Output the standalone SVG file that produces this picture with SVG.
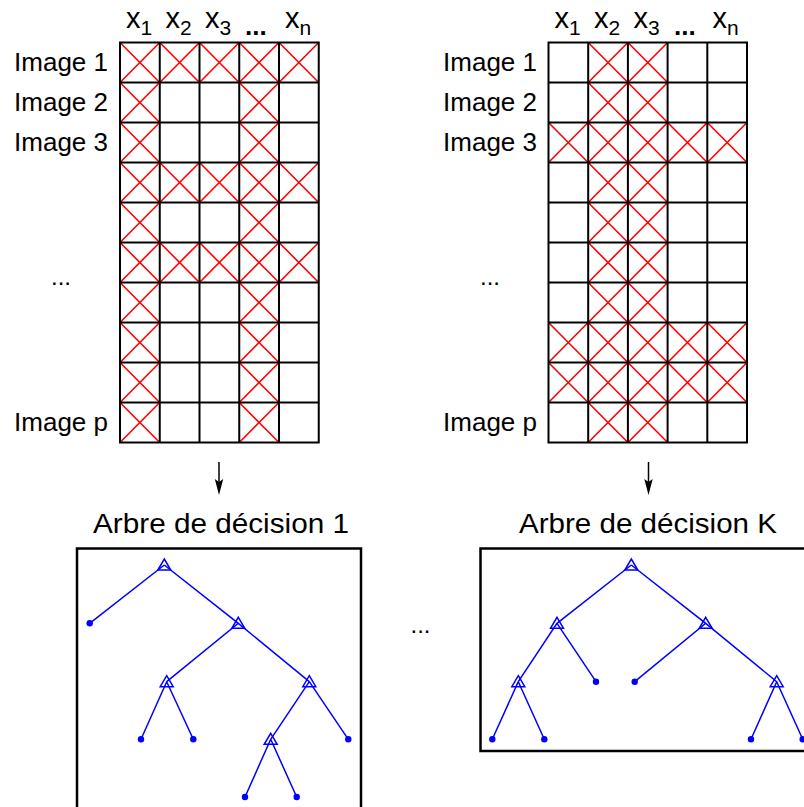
<svg xmlns="http://www.w3.org/2000/svg" xmlns:xlink="http://www.w3.org/1999/xlink" width="804" height="807" viewBox="0 0 804 807">
<style>
text{font-family:"Liberation Sans",Arial,sans-serif;fill:#000}
.lbl{font-size:26px;text-anchor:end}
.hdr{font-size:29px}
.sub{font-size:21px}
.dots{font-size:26px;font-weight:bold}
.ttl{font-size:28px}
.grid{fill:none;stroke:#000;stroke-width:2;stroke-linecap:square}
.cx{fill:none;stroke:#ff0000;stroke-width:1.6}
.edge{stroke:#0000ff;stroke-width:1.5;fill:none}
.tri{stroke:#0000ff;stroke-width:1.5;fill:none}
.leaf{fill:#0000ff}
.box{fill:none;stroke:#000;stroke-width:2.5}
.arr{stroke:#000;stroke-width:1.5}
.ah{fill:#000}
</style>
<defs>
<path id="xc" class="cx" d="M0,0L39.7,40M39.7,0L0,40"/>
<path id="tri" class="tri" d="M0,-6L6.5,5L-6.5,5Z"/>
</defs>

<g id="matrix-left">
<g id="headers-left">
<text class="hdr" x="126" y="28">x<tspan class="sub" dy="7">1</tspan></text>
<text class="hdr" x="165.5" y="28">x<tspan class="sub" dy="7">2</tspan></text>
<text class="hdr" x="205" y="28">x<tspan class="sub" dy="7">3</tspan></text>
<text class="dots" x="245" y="35">...</text>
<text class="hdr" x="285" y="28">x<tspan class="sub" dy="7">n</tspan></text>
</g>
<g id="labels-left">
<text class="lbl" x="108" y="71">Image 1</text>
<text class="lbl" x="108" y="111">Image 2</text>
<text class="lbl" x="108" y="151">Image 3</text>
<text x="51" y="285" style="font-size:24px">...</text>
<text class="lbl" x="108" y="431">Image p</text>
</g>
<g id="crosses-left">
<use xlink:href="#xc" x="120" y="42.5"/><use xlink:href="#xc" x="120" y="82.5"/><use xlink:href="#xc" x="120" y="122.5"/><use xlink:href="#xc" x="120" y="162.5"/><use xlink:href="#xc" x="120" y="202.5"/><use xlink:href="#xc" x="120" y="242.5"/><use xlink:href="#xc" x="120" y="282.5"/><use xlink:href="#xc" x="120" y="322.5"/><use xlink:href="#xc" x="120" y="362.5"/><use xlink:href="#xc" x="120" y="402.5"/>
<use xlink:href="#xc" x="239.25" y="42.5"/><use xlink:href="#xc" x="239.25" y="82.5"/><use xlink:href="#xc" x="239.25" y="122.5"/><use xlink:href="#xc" x="239.25" y="162.5"/><use xlink:href="#xc" x="239.25" y="202.5"/><use xlink:href="#xc" x="239.25" y="242.5"/><use xlink:href="#xc" x="239.25" y="282.5"/><use xlink:href="#xc" x="239.25" y="322.5"/><use xlink:href="#xc" x="239.25" y="362.5"/><use xlink:href="#xc" x="239.25" y="402.5"/>
<use xlink:href="#xc" x="159.75" y="42.5"/><use xlink:href="#xc" x="199.5" y="42.5"/><use xlink:href="#xc" x="279" y="42.5"/>
<use xlink:href="#xc" x="159.75" y="162.5"/><use xlink:href="#xc" x="199.5" y="162.5"/><use xlink:href="#xc" x="279" y="162.5"/>
<use xlink:href="#xc" x="159.75" y="242.5"/><use xlink:href="#xc" x="199.5" y="242.5"/><use xlink:href="#xc" x="279" y="242.5"/>
</g>
<path class="grid" d="M120,42.5V442.5M159.75,42.5V442.5M199.5,42.5V442.5M239.25,42.5V442.5M279,42.5V442.5M318.75,42.5V442.5M120,42.5H318.75M120,82.5H318.75M120,122.5H318.75M120,162.5H318.75M120,202.5H318.75M120,242.5H318.75M120,282.5H318.75M120,322.5H318.75M120,362.5H318.75M120,402.5H318.75M120,442.5H318.75"/>
</g>

<g id="matrix-right">
<g id="headers-right">
<text class="hdr" x="554.5" y="28">x<tspan class="sub" dy="7">1</tspan></text>
<text class="hdr" x="594" y="28">x<tspan class="sub" dy="7">2</tspan></text>
<text class="hdr" x="633.5" y="28">x<tspan class="sub" dy="7">3</tspan></text>
<text class="dots" x="674" y="35">...</text>
<text class="hdr" x="712.5" y="28">x<tspan class="sub" dy="7">n</tspan></text>
</g>
<g id="labels-right">
<text class="lbl" x="537" y="71">Image 1</text>
<text class="lbl" x="537" y="111">Image 2</text>
<text class="lbl" x="537" y="151">Image 3</text>
<text x="480" y="285" style="font-size:24px">...</text>
<text class="lbl" x="537" y="431">Image p</text>
</g>
<g id="crosses-right">
<use xlink:href="#xc" x="588.2" y="42.5"/><use xlink:href="#xc" x="588.2" y="82.5"/><use xlink:href="#xc" x="588.2" y="122.5"/><use xlink:href="#xc" x="588.2" y="162.5"/><use xlink:href="#xc" x="588.2" y="202.5"/><use xlink:href="#xc" x="588.2" y="242.5"/><use xlink:href="#xc" x="588.2" y="282.5"/><use xlink:href="#xc" x="588.2" y="322.5"/><use xlink:href="#xc" x="588.2" y="362.5"/><use xlink:href="#xc" x="588.2" y="402.5"/>
<use xlink:href="#xc" x="627.9" y="42.5"/><use xlink:href="#xc" x="627.9" y="82.5"/><use xlink:href="#xc" x="627.9" y="122.5"/><use xlink:href="#xc" x="627.9" y="162.5"/><use xlink:href="#xc" x="627.9" y="202.5"/><use xlink:href="#xc" x="627.9" y="242.5"/><use xlink:href="#xc" x="627.9" y="282.5"/><use xlink:href="#xc" x="627.9" y="322.5"/><use xlink:href="#xc" x="627.9" y="362.5"/><use xlink:href="#xc" x="627.9" y="402.5"/>
<use xlink:href="#xc" x="548.5" y="122.5"/><use xlink:href="#xc" x="667.6" y="122.5"/><use xlink:href="#xc" x="707.3" y="122.5"/>
<use xlink:href="#xc" x="548.5" y="322.5"/><use xlink:href="#xc" x="667.6" y="322.5"/><use xlink:href="#xc" x="707.3" y="322.5"/>
<use xlink:href="#xc" x="548.5" y="362.5"/><use xlink:href="#xc" x="667.6" y="362.5"/><use xlink:href="#xc" x="707.3" y="362.5"/>
</g>
<path class="grid" d="M548.5,42.5V442.5M588.2,42.5V442.5M627.9,42.5V442.5M667.6,42.5V442.5M707.3,42.5V442.5M747,42.5V442.5M548.5,42.5H747M548.5,82.5H747M548.5,122.5H747M548.5,162.5H747M548.5,202.5H747M548.5,242.5H747M548.5,282.5H747M548.5,322.5H747M548.5,362.5H747M548.5,402.5H747M548.5,442.5H747"/>
</g>

<g id="connectors">
<line class="arr" x1="219" y1="462" x2="219" y2="484"/>
<path class="ah" d="M219,495L214.8,479L219,482L223.2,479Z"/>
<line class="arr" x1="648.5" y1="462" x2="648.5" y2="484"/>
<path class="ah" d="M648.5,495L644.3,479L648.5,482L652.7,479Z"/>
</g>

<g id="tree-1">
<text class="ttl" x="93" y="533" textLength="256" lengthAdjust="spacingAndGlyphs">Arbre de décision 1</text>
<rect class="box" x="77" y="548.5" width="284" height="300"/>
<path class="edge" d="M164.3,565L89.7,623.3M164.3,565L238.3,623.3L166.7,681.7M238.3,623.3L309.3,681.7M166.7,681.7L141,739.3M166.7,681.7L193.3,739.3M309.3,681.7L270.7,739.3M309.3,681.7L348.3,739.3M270.7,739.3L245,797M270.7,739.3L296.7,797"/>
<use xlink:href="#tri" x="164.3" y="565"/>
<use xlink:href="#tri" x="238.3" y="623.3"/>
<use xlink:href="#tri" x="166.7" y="681.7"/>
<use xlink:href="#tri" x="309.3" y="681.7"/>
<use xlink:href="#tri" x="270.7" y="739.3"/>
<circle class="leaf" cx="89.7" cy="623.3" r="3.2"/>
<circle class="leaf" cx="141" cy="739.3" r="3.2"/>
<circle class="leaf" cx="193.3" cy="739.3" r="3.2"/>
<circle class="leaf" cx="348.3" cy="739.3" r="3.2"/>
<circle class="leaf" cx="245" cy="797" r="3.2"/>
<circle class="leaf" cx="296.7" cy="797" r="3.2"/>
</g>

<text x="410.5" y="633" style="font-size:24px">...</text>

<g id="tree-k">
<text class="ttl" x="519" y="533" textLength="258" lengthAdjust="spacingAndGlyphs">Arbre de décision K</text>
<rect class="box" x="480.5" y="548.5" width="340" height="202.5"/>
<path class="edge" d="M631.3,565L557,623.3L518.3,681.7L492.3,739.3M518.3,681.7L544.3,739.3M557,623.3L596,681.7M631.3,565L705.7,623.3L634.7,681.7M705.7,623.3L776.7,681.7L751,739.3M776.7,681.7L802.7,739.3"/>
<use xlink:href="#tri" x="631.3" y="565"/>
<use xlink:href="#tri" x="557" y="623.3"/>
<use xlink:href="#tri" x="705.7" y="623.3"/>
<use xlink:href="#tri" x="518.3" y="681.7"/>
<use xlink:href="#tri" x="776.7" y="681.7"/>
<circle class="leaf" cx="596" cy="681.7" r="3.2"/>
<circle class="leaf" cx="634.7" cy="681.7" r="3.2"/>
<circle class="leaf" cx="492.3" cy="739.3" r="3.2"/>
<circle class="leaf" cx="544.3" cy="739.3" r="3.2"/>
<circle class="leaf" cx="751" cy="739.3" r="3.2"/>
<circle class="leaf" cx="802.7" cy="739.3" r="3.2"/>
</g>
</svg>
